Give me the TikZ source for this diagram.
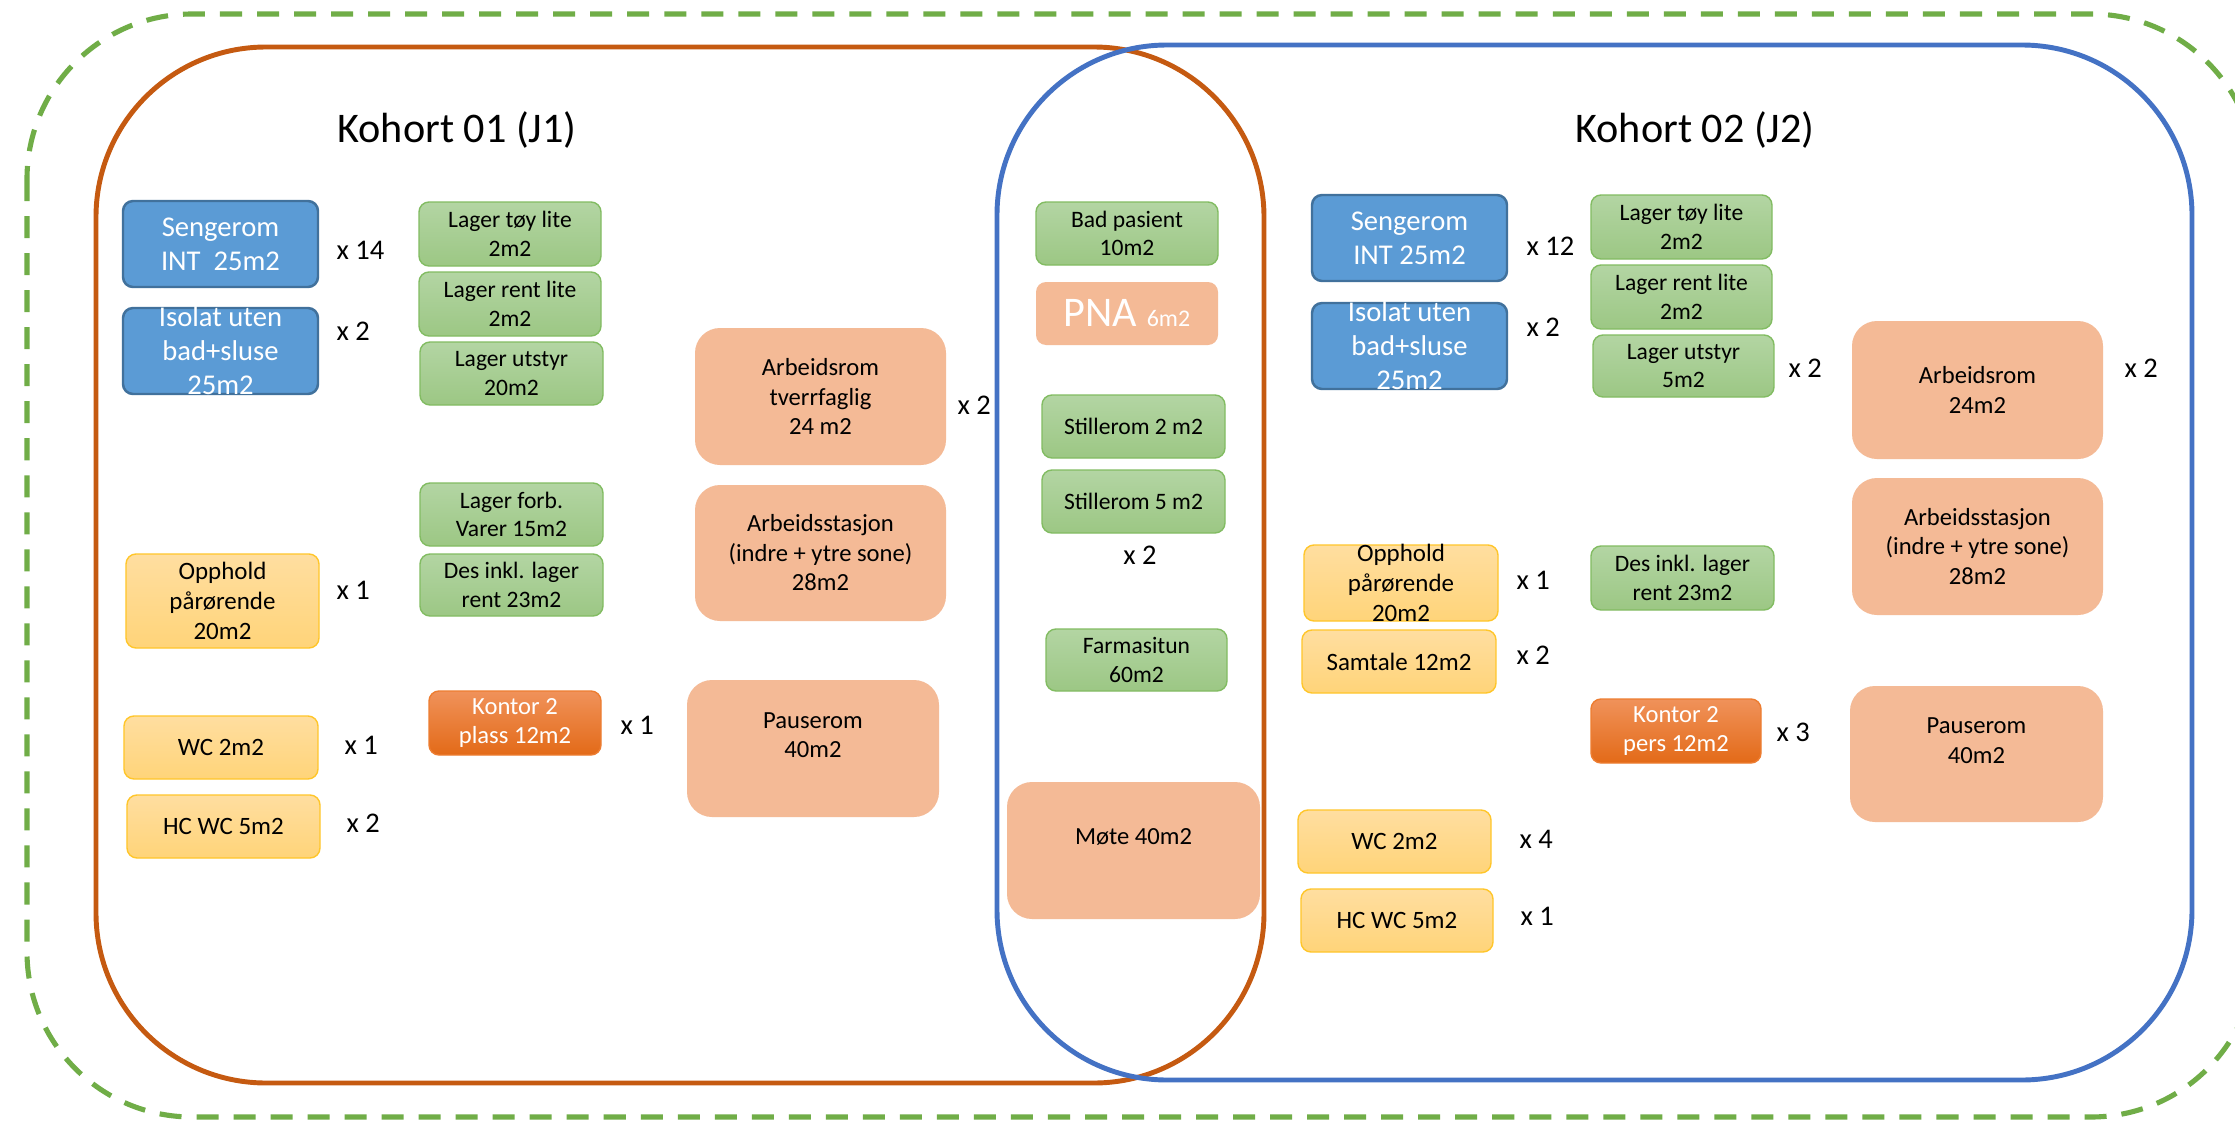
\documentclass[tikz,border=0pt]{standalone}
\usepackage{fontspec}
\setmainfont{Carlito}
\definecolor{gdash}{HTML}{70AD47}
\definecolor{oframe}{HTML}{C55A11}
\definecolor{bframe}{HTML}{4472C4}
\definecolor{bfill}{HTML}{5B9BD5}
\definecolor{bdraw}{HTML}{41719C}
\definecolor{gtop}{HTML}{B3D5A3}
\definecolor{gbot}{HTML}{9CC784}
\definecolor{gdraw}{HTML}{82BC62}
\definecolor{ytop}{HTML}{FFDEA0}
\definecolor{ybot}{HTML}{FFD479}
\definecolor{ydraw}{HTML}{FFC62A}
\definecolor{pfill}{HTML}{F4BA96}
\definecolor{ktop}{HTML}{F0925A}
\definecolor{kbot}{HTML}{E36A18}
\definecolor{kdraw}{HTML}{ED7D31}
\newcommand\roombox[8]{%
  \pgfmathsetmacro\rbcx{(#4+#6)/2}%
  \pgfmathsetmacro\rbcy{(#5+#7)/2}%
  \pgfmathsetmacro\rbw{(#6-#4)*0.01}%
  \pgfmathsetmacro\rbh{(#7-#5)*0.01}%
  \node[#2, minimum width=\rbw cm, minimum height=\rbh cm] (#1) at (\rbcx,\rbcy) {};%
  \node[#3] (#1t) at (#1.center) {#8};%
}
\begin{document}
\begin{tikzpicture}[x=0.01cm,y=-0.01cm,
  boxbase/.style={inner sep=0pt, outer sep=0pt},
  bluebox/.style={boxbase, fill=bfill, draw=bdraw, line width=0.7pt, rounded corners=0.1cm},
  greenbox/.style={boxbase, top color=gtop, bottom color=gbot, draw=gdraw, line width=0.4pt, rounded corners=0.1cm},
  yellowbox/.style={boxbase, top color=ytop, bottom color=ybot, draw=ydraw, line width=0.4pt, rounded corners=0.1cm},
  kontorbox/.style={boxbase, top color=ktop, bottom color=kbot, draw=kdraw, line width=0.4pt, rounded corners=0.1cm},
  peachbox/.style={boxbase, fill=pfill, draw=none, rounded corners=0.25cm},
  pnabox/.style={boxbase, fill=pfill, draw=none, rounded corners=0.1cm},
  tbase/.style={inner sep=0pt, align=center},
  tblue/.style={tbase, text=white, font=\fontsize{8.14}{9.67}\selectfont},
  tgreen/.style={tbase, text=black, font=\fontsize{6.7}{8.14}\selectfont},
  tyellow/.style={tbase, text=black, font=\fontsize{7.1}{8.5}\selectfont},
  tkontor/.style={tbase, text=white, font=\fontsize{7.0}{8.06}\selectfont},
  tpeach/.style={tbase, text=black, font=\fontsize{7.0}{8.4}\selectfont},
  cnt/.style={inner sep=0pt, anchor=west, font=\fontsize{8.1}{9.7}\selectfont},
  ttl/.style={inner sep=0pt, font=\fontsize{12}{14}\selectfont},
  frame/.style={line width=1.4pt, rounded corners=1.7cm}
]
\useasboundingbox (0,0) rectangle (2235,1124);
\fill[white] (0,0) rectangle (2235,1124);
\clip (0,0) rectangle (2235,1124);

% frames
\draw[gdash, line width=1.45pt, dash pattern=on 0.22cm off 0.15cm, rounded corners=1.65cm] (27,14) rectangle (2256,1117);
\draw[frame, oframe] (96,47) rectangle (1264,1083);
\draw[frame, bframe] (997,45) rectangle (2192,1080);

% titles
\node[ttl] (t1) at (457,130) {Kohort 01 (J1)};
\node[ttl] (t2) at (1695,130) {Kohort 02 (J2)};

% Kohort 01
\roombox{s1}{bluebox}{tblue}{123}{201}{318}{287}{Sengerom\\INT~~25m2}
\roombox{i1}{bluebox}{tblue}{123}{308}{318}{394}{Isolat uten\\bad+sluse\\25m2}
\roombox{o1}{yellowbox}{tyellow}{126}{554}{319}{648}{Opphold\\pårørende\\20m2}
\roombox{w1}{yellowbox}{tyellow}{124}{716}{318}{779}{WC 2m2}
\roombox{h1}{yellowbox}{tyellow}{127}{795}{320}{858}{HC WC 5m2}
\roombox{g1}{greenbox}{tgreen}{419}{202}{601}{266}{Lager tøy lite\\2m2}
\roombox{g2}{greenbox}{tgreen}{419}{272}{601}{336}{Lager rent lite\\2m2}
\roombox{g3}{greenbox}{tgreen}{420}{342}{603}{405}{Lager utstyr\\20m2}
\roombox{g4}{greenbox}{tgreen}{420}{483}{603}{546}{Lager forb.\\Varer 15m2}
\roombox{g5}{greenbox}{tgreen}{420}{554}{603}{616}{Des inkl. lager\\rent 23m2}
\roombox{k1}{kontorbox}{tkontor}{429}{691}{601}{755}{Kontor 2\\plass 12m2}
\roombox{a1}{peachbox}{tpeach}{695}{328}{946}{465}{Arbeidsrom\\tverrfaglig\\24 m2}
\roombox{a2}{peachbox}{tpeach}{695}{485}{946}{621}{Arbeidsstasjon\\(indre + ytre sone)\\28m2}
\roombox{p1}{peachbox}{tpeach, yshift=0.135cm}{687}{680}{939}{817}{Pauserom\\40m2}

\node[cnt] (c1) at (336,250) {x 14};
\node[cnt] (c2) at (336,331) {x 2};
\node[cnt] (c3) at (336,590) {x 1};
\node[cnt] (c4) at (344,745) {x 1};
\node[cnt] (c5) at (346,823) {x 2};
\node[cnt] (c6) at (620,725) {x 1};
\node[cnt] (c7) at (957,405) {x 2};

% shared middle
\roombox{m1}{greenbox}{tgreen}{1036}{202}{1218}{265}{Bad pasient\\10m2}
\roombox{m2}{pnabox}{tbase}{1036}{282}{1218}{345}{\textcolor{white}{\fontsize{12}{14}\selectfont PNA {\fontsize{6.8}{8}\selectfont 6m2}}}
\roombox{m3}{greenbox}{tgreen}{1042}{395}{1225}{458}{Stillerom 2 m2}
\roombox{m4}{greenbox}{tgreen}{1042}{470}{1225}{533}{Stillerom 5 m2}
\roombox{m5}{greenbox}{tgreen}{1046}{629}{1227}{691}{Farmasitun\\60m2}
\roombox{m6}{peachbox}{tpeach, yshift=0.135cm}{1007}{782}{1260}{919}{Møte 40m2}
\node[cnt, anchor=center] (c8) at (1140,555) {x 2};

% Kohort 02
\roombox{s2}{bluebox}{tblue}{1312}{195}{1507}{281}{Sengerom\\INT 25m2}
\roombox{i2}{bluebox}{tblue}{1312}{303}{1507}{389}{Isolat uten\\bad+sluse\\25m2}
\roombox{o2}{yellowbox}{tyellow}{1304}{545}{1498}{621}{Opphold\\pårørende\\20m2}
\roombox{sa}{yellowbox}{tyellow}{1302}{630}{1496}{693}{Samtale 12m2}
\roombox{w2}{yellowbox}{tyellow}{1298}{810}{1491}{873}{WC 2m2}
\roombox{h2}{yellowbox}{tyellow}{1301}{889}{1493}{952}{HC WC 5m2}
\roombox{r1}{greenbox}{tgreen}{1591}{195}{1772}{259}{Lager tøy lite\\2m2}
\roombox{r2}{greenbox}{tgreen}{1591}{265}{1772}{329}{Lager rent lite\\2m2}
\roombox{r3}{greenbox}{tgreen}{1593}{335}{1774}{397}{Lager utstyr\\5m2}
\roombox{r4}{greenbox}{tgreen}{1591}{546}{1774}{610}{Des inkl. lager\\rent 23m2}
\roombox{k2}{kontorbox}{tkontor}{1591}{699}{1761}{763}{Kontor 2\\pers 12m2}
\roombox{b1}{peachbox}{tpeach}{1852}{321}{2103}{459}{Arbeidsrom\\24m2}
\roombox{b2}{peachbox}{tpeach}{1852}{478}{2103}{615}{Arbeidsstasjon\\(indre + ytre sone)\\28m2}
\roombox{p2}{peachbox}{tpeach, yshift=0.135cm}{1850}{686}{2103}{822}{Pauserom\\40m2}

\node[cnt] (d1) at (1526,246) {x 12};
\node[cnt] (d2) at (1526,327) {x 2};
\node[cnt] (d3) at (1788,368) {x 2};
\node[cnt] (d4) at (2124,368) {x 2};
\node[cnt] (d5) at (1516,580) {x 1};
\node[cnt] (d6) at (1516,655) {x 2};
\node[cnt] (d7) at (1776,732) {x 3};
\node[cnt] (d8) at (1519,839) {x 4};
\node[cnt] (d9) at (1520,916) {x 1};
\end{tikzpicture}
\end{document}
